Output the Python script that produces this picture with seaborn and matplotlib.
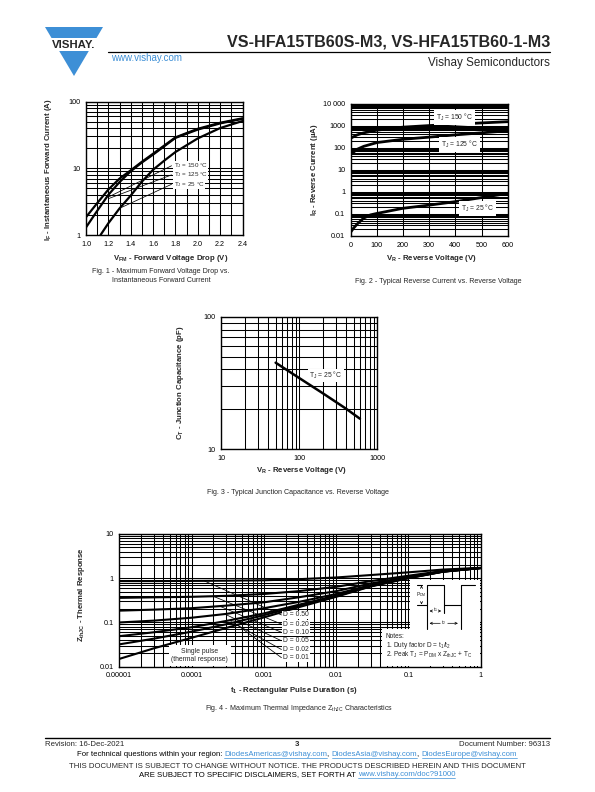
import matplotlib
matplotlib.use("Agg")
import matplotlib.pyplot as plt
import seaborn as sns
from matplotlib.ticker import LogLocator, NullFormatter, MultipleLocator, FixedLocator, FixedFormatter
from matplotlib.patches import Polygon, Rectangle

W, H = 595, 792

# ---------------- data ----------------
# Fig. 1 - forward voltage drop vs forward current
vf_hot = [1.0, 1.1, 1.2, 1.3, 1.4, 1.5, 1.6, 1.8, 2.0, 2.2, 2.4]
if_150 = [1.85, 3.0, 4.8, 7.0, 9.3, 12.5, 16.5, 29, 39, 48, 56]
if_125 = [1.3, 2.3, 4.0, 6.2, 9.0, 12.2, 16, 28.5, 38, 47, 55]
vf_25 = [1.13, 1.2, 1.3, 1.4, 1.5, 1.6, 1.7, 1.8, 2.0, 2.2, 2.4]
if_25 = [1.0, 1.5, 2.5, 3.9, 6.3, 9.5, 13, 17.5, 28, 40, 51]
fig1_labels = ["T$_J$ = 150 °C", "T$_J$ = 125 °C", "T$_J$ = 25 °C"]
fig1_label_i = [10.9, 7.95, 5.75]
fig1_lead_end = [(1.2, 3.7), (1.2, 3.5), (1.32, 2.6)]

# Fig. 2 - reverse current vs reverse voltage
vr_hot = [0, 25, 50, 100, 200, 300, 400, 500, 600]
ir_150 = [270, 380, 470, 620, 850, 1000, 1150, 1320, 1500]
ir_125 = [50, 85, 115, 170, 240, 300, 380, 470, 580]
vr_25 = [0, 10, 25, 50, 75, 100, 200, 300, 400, 500, 600]
ir_25 = [0.015, 0.022, 0.035, 0.065, 0.09, 0.105, 0.18, 0.25, 0.36, 0.55, 0.85]
fig2_labels = ["T$_J$ = 150 °C", "T$_J$ = 125 °C", "T$_J$ = 25 °C"]
fig2_label_pos = [(395, 2350), (414, 140), (485, 0.17)]

# Fig. 3 - junction capacitance
vr_cap = [50, 100, 200, 400, 600]
ct_cap = [45, 34.5, 26.5, 20.2, 17]

# Fig. 4 - thermal impedance
t_pulse = [1e-5, 3e-5, 1e-4, 3e-4, 1e-3, 3e-3, 1e-2, 3e-2, 0.1, 0.3, 1]
z_single = [0.015, 0.026, 0.045, 0.075, 0.13, 0.22, 0.38, 0.65, 1.0, 1.4, 1.7]
z_d001 = [0.032, 0.043, 0.062, 0.091, 0.146, 0.235, 0.393, 0.66, 1.01, 1.41, 1.7]
z_d002 = [0.049, 0.06, 0.078, 0.108, 0.16, 0.25, 0.405, 0.67, 1.02, 1.41, 1.7]
z_d005 = [0.1, 0.11, 0.128, 0.156, 0.21, 0.29, 0.44, 0.7, 1.04, 1.42, 1.7]
z_d010 = [0.185, 0.195, 0.21, 0.24, 0.285, 0.37, 0.51, 0.76, 1.07, 1.43, 1.7]
z_d020 = [0.36, 0.37, 0.38, 0.40, 0.44, 0.51, 0.64, 0.86, 1.14, 1.46, 1.71]
z_d050 = [0.86, 0.86, 0.87, 0.88, 0.9, 0.95, 1.04, 1.18, 1.36, 1.57, 1.72]
duty_labels = ["D = 0.50", "D = 0.20", "D = 0.10", "D = 0.05", "D = 0.02", "D = 0.01"]
duty_label_z = [0.148, 0.092, 0.06, 0.0386, 0.0245, 0.016]
duty_lead_start = [(1.5e-4, 0.87), (2e-4, 0.39), (2.5e-4, 0.23), (3e-4, 0.15), (3.5e-4, 0.105), (4e-4, 0.095)]

# ---------------- style ----------------
sns.set_style("white")
plt.rcParams["font.family"] = ["Liberation Sans", "DejaVu Sans"]
plt.rcParams["mathtext.fontset"] = "custom"
plt.rcParams["mathtext.rm"] = "Liberation Sans"
plt.rcParams["mathtext.it"] = "Liberation Sans:italic"
plt.rcParams["mathtext.bf"] = "Liberation Sans:bold"
plt.rcParams["mathtext.default"] = "rm"

fig = plt.figure(figsize=(W / 100, H / 100), dpi=100)
fig.patch.set_facecolor("white")

BLUE = "#3d8fd6"
TICK_FS = 5.2
LAB_FS = 5.6
ANN_FS = 4.5
GRID = dict(color="black", lw=0.75)


def rect(l, t, r, b):
    return [l / W, 1 - b / H, (r - l) / W, (b - t) / H]


def setup(ax, box, xlab, ylab, xlab_px, ylab_px):
    l, t, r, b = box
    for s in ax.spines.values():
        s.set_color("black")
        s.set_linewidth(1.0)
    ax.tick_params(which="both", length=0, labelsize=TICK_FS, colors="black")
    ax.tick_params(axis="x", pad=4)
    ax.tick_params(axis="y", pad=4)
    ax.grid(which="both", **GRID)
    ax.set_axisbelow(True)
    ax.set_xlabel(xlab, fontsize=LAB_FS, fontweight="bold")
    ax.set_ylabel(ylab, fontsize=LAB_FS, fontweight="bold")
    ax.xaxis.set_label_coords((xlab_px[0] - l) / (r - l), (b - xlab_px[1]) / (b - t))
    ax.yaxis.set_label_coords((ylab_px[0] - l) / (r - l), (b - ylab_px[1]) / (b - t))
    ax.xaxis.label.set_va("center")
    ax.yaxis.label.set_va("center")


def log_y(ax):
    ax.set_yscale("log")
    ax.yaxis.set_minor_locator(LogLocator(base=10, subs=range(2, 10)))
    ax.yaxis.set_minor_formatter(NullFormatter())


def log_x(ax):
    ax.set_xscale("log")
    ax.xaxis.set_minor_locator(LogLocator(base=10, subs=range(2, 10)))
    ax.xaxis.set_minor_formatter(NullFormatter())


WBOX = dict(boxstyle="square,pad=0.05", fc="white", ec="none")

# ---------------- Fig. 1 ----------------
box1 = (86, 101.5, 242.5, 235)
ax1 = fig.add_axes(rect(*box1))
log_y(ax1)
sns.lineplot(x=vf_hot, y=if_150, ax=ax1, color="black", lw=1.6)
sns.lineplot(x=vf_hot, y=if_125, ax=ax1, color="black", lw=1.6)
sns.lineplot(x=vf_25, y=if_25, ax=ax1, color="black", lw=1.6)
for lab, yi, (ex, ey) in zip(fig1_labels, fig1_label_i, fig1_lead_end):
    ax1.plot([1.765, ex], [yi, ey], color="black", lw=0.55)
    ax1.text(1.785, yi, lab, fontsize=ANN_FS, va="center", ha="left", bbox=WBOX)
ax1.set_xlim(1.0, 2.4)
ax1.set_ylim(1, 100)
ax1.xaxis.set_major_locator(MultipleLocator(0.2))
ax1.xaxis.set_minor_locator(MultipleLocator(0.1))
ax1.xaxis.set_major_formatter(plt.FuncFormatter(lambda v, p: f"{v:.1f}"))
ax1.yaxis.set_major_formatter(plt.FuncFormatter(lambda v, p: f"{v:g}"))
setup(ax1, box1, r"$\mathbf{V_{FM}}$ - Forward Voltage Drop (V)",
      r"$\mathbf{I_F}$ - Instantaneous Forward Current (A)", (171, 258), (48, 170))

# ---------------- Fig. 2 ----------------
box2 = (350.7, 103.5, 507.7, 236)
ax2 = fig.add_axes(rect(*box2))
log_y(ax2)
sns.lineplot(x=vr_hot, y=ir_150, ax=ax2, color="black", lw=2.0)
sns.lineplot(x=vr_hot, y=ir_125, ax=ax2, color="black", lw=2.0)
sns.lineplot(x=vr_25, y=ir_25, ax=ax2, color="black", lw=2.0)
for lab, (x, y) in zip(fig2_labels, fig2_label_pos):
    ax2.text(x, y, lab, fontsize=4.9, va="center", ha="center",
             bbox=dict(boxstyle="square,pad=0.3", fc="white", ec="none"))
ax2.set_xlim(0, 600)
ax2.set_ylim(0.01, 10000)
ax2.xaxis.set_major_locator(MultipleLocator(100))
ax2.yaxis.set_major_locator(FixedLocator([0.01, 0.1, 1, 10, 100, 1000, 10000]))
ax2.yaxis.set_major_formatter(FixedFormatter(["0.01", "0.1", "1", "10", "100", "1000", "10 000"]))
setup(ax2, box2, r"$\mathbf{V_R}$ - Reverse Voltage (V)",
      r"$\mathbf{I_R}$ - Reverse Current (µA)", (431, 258), (315, 170))

# ---------------- Fig. 3 ----------------
box3 = (221, 316.7, 377.3, 449.3)
ax3 = fig.add_axes(rect(*box3))
log_x(ax3)
log_y(ax3)
sns.lineplot(x=vr_cap, y=ct_cap, ax=ax3, color="black", lw=1.8)
ax3.text(220, 36, "T$_J$ = 25 °C", fontsize=4.9, va="center", ha="center",
         bbox=dict(boxstyle="square,pad=0.15", fc="white", ec="none"))
ax3.set_xlim(10, 1000)
ax3.set_ylim(10, 100)
ax3.xaxis.set_major_formatter(plt.FuncFormatter(lambda v, p: f"{v:g}"))
ax3.yaxis.set_major_formatter(plt.FuncFormatter(lambda v, p: f"{v:g}"))
setup(ax3, box3, r"$\mathbf{V_R}$ - Reverse Voltage (V)",
      r"$\mathbf{C_T}$ - Junction Capacitance (pF)", (301, 470), (180, 383))

# ---------------- Fig. 4 ----------------
box4 = (119.3, 534, 480.7, 666.7)
ax4 = fig.add_axes(rect(*box4))
log_x(ax4)
log_y(ax4)
for z in [z_d050, z_d020, z_d010, z_d005, z_d002, z_d001, z_single]:
    sns.lineplot(x=t_pulse, y=z, ax=ax4, color="black", lw=1.5)
for lab, zl, (sx, sy) in zip(duty_labels, duty_label_z, duty_lead_start):
    ax4.plot([sx, 1.75e-3], [sy, zl], color="black", lw=0.55)
    ax4.text(1.85e-3, zl, lab, fontsize=4.9, va="center", ha="left",
             bbox=dict(boxstyle="square,pad=0.1", fc="white", ec="none"))
ax4.text(1.3e-4, 0.018, "Single pulse\n(thermal response)", fontsize=4.9,
         va="center", ha="center", linespacing=1.3,
         bbox=dict(boxstyle="square,pad=0.4", fc="white", ec="none"))
ax4.set_xlim(1e-5, 1)
ax4.set_ylim(0.01, 10)
ax4.xaxis.set_major_locator(FixedLocator([1e-5, 1e-4, 1e-3, 1e-2, 0.1, 1]))
ax4.xaxis.set_major_formatter(FixedFormatter(["0.00001", "0.0001", "0.001", "0.01", "0.1", "1"]))
ax4.yaxis.set_major_formatter(plt.FuncFormatter(lambda v, p: f"{v:g}"))
setup(ax4, box4, r"$\mathbf{t_1}$ - Rectangular Pulse Duration (s)",
      r"$\mathbf{Z_{thJC}}$ - Thermal Response", (294, 690), (81.7, 595))

# ---------------- page overlay (header, captions, footer, pulse sketch) ----------------
ov = fig.add_axes([0, 0, 1, 1])
ov.set_xlim(0, W)
ov.set_ylim(H, 0)
ov.axis("off")
ov.patch.set_alpha(0)
renderer = fig.canvas.get_renderer()


def chain_text(y, pieces, xc, fs):
    # lay text pieces side by side, centred on xc; blue pieces are underlined links
    items = []
    for s, col in pieces:
        t = ov.text(0, y, s, fontsize=fs, color=col, ha="left", va="center")
        items.append((t, t.get_window_extent(renderer).width, col))
    x = xc - sum(w for _, w, _ in items) / 2
    for t, w, col in items:
        t.set_x(x)
        if col == BLUE:
            ov.plot([x, x + w], [y + 3.6, y + 3.6], color=BLUE, lw=0.5)
        x += w


# logo
ov.add_patch(Polygon([(45, 27), (103, 27), (74, 76)], closed=True, fc=BLUE, ec="none"))
ov.add_patch(Rectangle((42, 38), 64, 13, fc="white", ec="none"))
ov.text(74, 45, "VISHAY.", fontsize=8.2, fontweight="bold", ha="center", va="center")
ov.plot([108, 550], [52, 52], color="black", lw=0.9)
ov.text(550, 46.5, "VS-HFA15TB60S-M3, VS-HFA15TB60-1-M3", fontsize=11.6,
        fontweight="bold", ha="right", va="baseline")
ov.text(550, 66, "Vishay Semiconductors", fontsize=8.4, ha="right", va="baseline")
ov.text(111, 61, "www.vishay.com", fontsize=7.0, color=BLUE, ha="left", va="baseline")

# captions
ov.text(161, 276, "Fig. 1 - Maximum Forward Voltage Drop vs.\nInstantaneous Forward Current",
        fontsize=5.1, ha="center", va="center", linespacing=1.25)
ov.text(438, 281.7, "Fig. 2 - Typical Reverse Current vs. Reverse Voltage",
        fontsize=5.1, ha="center", va="center")
ov.text(298, 493, "Fig. 3 - Typical Junction Capacitance vs. Reverse Voltage",
        fontsize=5.1, ha="center", va="center")
ov.text(299, 709, "Fig. 4 - Maximum Thermal Impedance Z$_{thJC}$ Characteristics",
        fontsize=5.1, ha="center", va="center")

# pulse sketch and notes in Fig. 4
ov.add_patch(Rectangle((410, 580), 70, 55, fc="white", ec="none"))
ov.add_patch(Rectangle((381.5, 629), 98.5, 37, fc="white", ec="none"))
ov.plot([426.7, 426.7, 444, 444, 460.7, 460.7, 475], [605, 585, 585, 605, 605, 585, 585],
        color="black", lw=0.8)
ov.plot([416.7, 426.7], [605, 605], color="black", lw=0.8)
ov.plot([416.7, 422], [585, 585], color="black", lw=0.8)
ov.plot([426.7, 426.7], [605, 629], color="black", lw=0.8)
ov.plot([444, 444], [605, 613], color="black", lw=0.8)
ov.plot([460.7, 460.7], [605, 629], color="black", lw=0.8)
arr = dict(arrowstyle="->", lw=0.5, mutation_scale=4, color="black")
ov.annotate("", xy=(426.7, 611), xytext=(435, 611), arrowprops=arr)
ov.annotate("", xy=(444, 611), xytext=(436, 611), arrowprops=arr)
ov.annotate("", xy=(426.7, 623.3), xytext=(443, 623.3), arrowprops=arr)
ov.annotate("", xy=(460.7, 623.3), xytext=(445, 623.3), arrowprops=arr)
ov.annotate("", xy=(421.5, 585.5), xytext=(421.5, 590), arrowprops=arr)
ov.annotate("", xy=(421.5, 604.5), xytext=(421.5, 600), arrowprops=arr)
ov.text(421.5, 595, "P$_{DM}$", fontsize=3.6, ha="center", va="center")
ov.text(435.5, 610, "t$_1$", fontsize=3.6, ha="center", va="center")
ov.text(444, 622.3, "t$_2$", fontsize=3.6, ha="center", va="center")
NFS = 4.7
ov.text(386, 636.8, "Notes:", fontsize=NFS, ha="left", va="center")
ov.text(386, 645.4, "1. Duty factor D = t$_1$/t$_2$", fontsize=NFS, ha="left", va="center")
ov.text(386, 654.6, "2. Peak T$_J$ = P$_{DM}$ x Z$_{thJC}$ + T$_C$", fontsize=NFS, ha="left", va="center")

# footer
ov.plot([45, 550], [737.5, 737.5], color="black", lw=1.0)
FS = 5.6
ov.text(45, 744.5, "Revision: 16-Dec-2021", fontsize=FS, ha="left", va="center")
ov.text(297, 744.5, "3", fontsize=FS, fontweight="bold", ha="center", va="center")
ov.text(550, 744.5, "Document Number: 96313", fontsize=FS, ha="right", va="center")
chain_text(754.8, [("For technical questions within your region: ", "black"),
                   ("DiodesAmericas@vishay.com", BLUE), (", ", "black"),
                   ("DiodesAsia@vishay.com", BLUE), (", ", "black"),
                   ("DiodesEurope@vishay.com", BLUE)], 297, FS)
ov.text(297, 766.2, "THIS DOCUMENT IS SUBJECT TO CHANGE WITHOUT NOTICE. THE PRODUCTS DESCRIBED HEREIN AND THIS DOCUMENT",
        fontsize=FS, ha="center", va="center")
chain_text(774.8, [("ARE SUBJECT TO SPECIFIC DISCLAIMERS, SET FORTH AT ", "black"),
                   ("www.vishay.com/doc?91000", BLUE)], 297, FS)

fig.savefig("out.png", dpi=100, facecolor="white")
